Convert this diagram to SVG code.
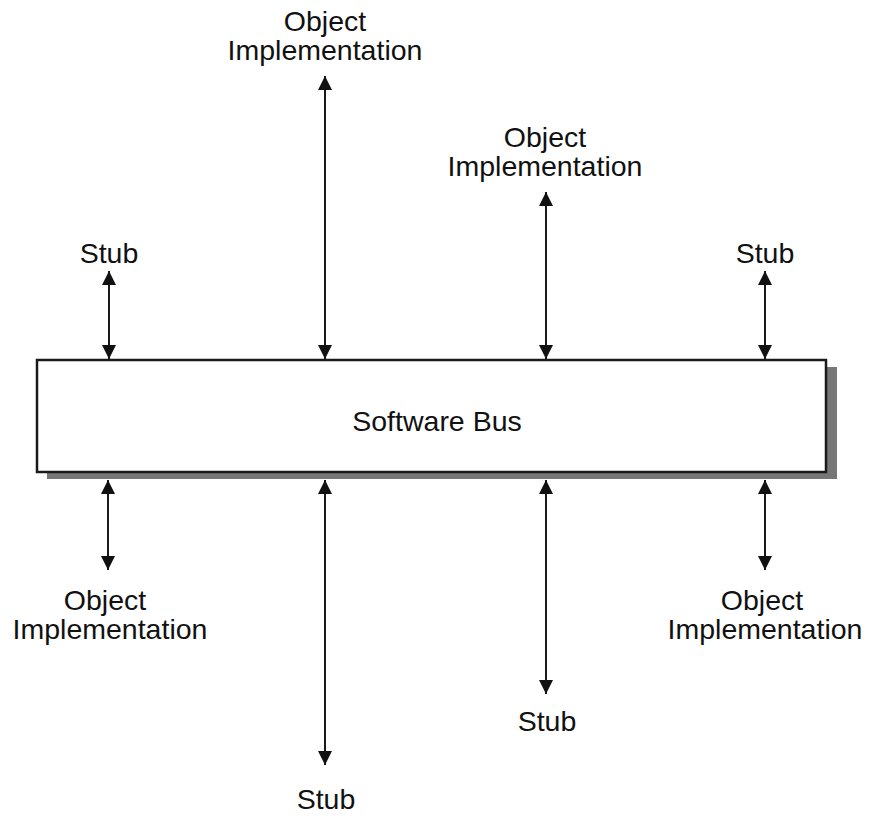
<svg xmlns="http://www.w3.org/2000/svg" width="870" height="816" viewBox="0 0 870 816">
<style>
text{font-family:"Liberation Sans",Arial,sans-serif;font-size:28.5px;fill:#111;text-anchor:middle}
.c{stroke:#1a1a1a;stroke-width:2;fill:none;marker-start:url(#a);marker-end:url(#a)}
</style>
<defs>
<marker id="a" viewBox="0 0 14 14" refX="14" refY="7" markerWidth="14" markerHeight="14" markerUnits="userSpaceOnUse" orient="auto-start-reverse">
<path d="M0,0 L14,7 L0,14 Z" fill="#111"/>
</marker>
</defs>
<g id="bus">
<rect x="47" y="367" width="790" height="112" fill="#777"/>
<rect x="37" y="360" width="789" height="112" fill="#fff" stroke="#1a1a1a" stroke-width="2.5"/>
<text x="437" y="431">Software Bus</text>
</g>
<g id="connectors">
<line class="c" x1="109" y1="271" x2="109" y2="359"/>
<line class="c" x1="325" y1="76" x2="325" y2="359"/>
<line class="c" x1="546" y1="192" x2="546" y2="359"/>
<line class="c" x1="765" y1="271" x2="765" y2="359"/>
<line class="c" x1="108" y1="480" x2="108" y2="570"/>
<line class="c" x1="325" y1="480" x2="325" y2="765"/>
<line class="c" x1="546" y1="480" x2="546" y2="694"/>
<line class="c" x1="765" y1="480" x2="765" y2="570"/>
</g>
<g id="stub-top-left"><text x="109" y="263">Stub</text></g>
<g id="obj-top-1"><text x="325" y="31">Object</text><text x="325" y="60">Implementation</text></g>
<g id="obj-top-2"><text x="545" y="147">Object</text><text x="545" y="176">Implementation</text></g>
<g id="stub-top-right"><text x="765" y="263">Stub</text></g>
<g id="obj-bottom-left"><text x="105" y="610">Object</text><text x="110" y="639">Implementation</text></g>
<g id="stub-bottom-1"><text x="326" y="809">Stub</text></g>
<g id="stub-bottom-2"><text x="547" y="731">Stub</text></g>
<g id="obj-bottom-right"><text x="762" y="610">Object</text><text x="765" y="639">Implementation</text></g>
</svg>
